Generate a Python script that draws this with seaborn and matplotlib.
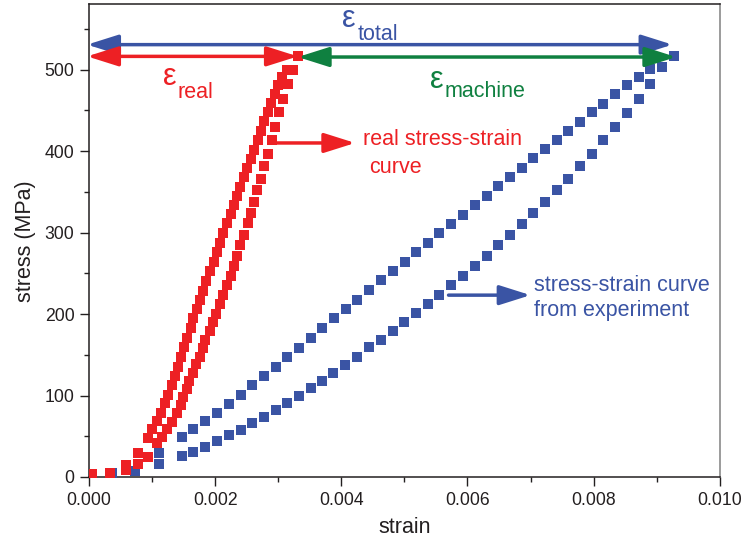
import matplotlib
matplotlib.use("Agg")
import matplotlib.pyplot as plt
import seaborn as sns
import pandas as pd
from matplotlib.ticker import MultipleLocator, FormatStrFormatter

# Real (specimen-only) loop: left branch and right branch
real_left_strain = [0.000043, 0.000333, 0.000582, 0.000781, 0.000940, 0.001003, 0.001082,
                    0.001141, 0.001200, 0.001257, 0.001311, 0.001363, 0.001415, 0.001463,
                    0.001510, 0.001561, 0.001609, 0.001653, 0.001716, 0.001764, 0.001811,
                    0.001862, 0.001922, 0.001976, 0.002024, 0.002081, 0.002128, 0.002182,
                    0.002246, 0.002293, 0.002350, 0.002398, 0.002461, 0.002509, 0.002563,
                    0.002615, 0.002674, 0.002726, 0.002778, 0.002832, 0.002884, 0.002943,
                    0.003000, 0.003059, 0.003143, 0.003317]
real_left_stress = [3.3, 5.3, 14.7, 29.9, 48.3, 58.6, 68.8, 79.0, 90.5, 101.1, 112.7, 124.1,
                    135.5, 147.4, 159.3, 170.8, 183.0, 195.0, 206.0, 217.8, 228.9, 240.8,
                    252.7, 264.5, 275.6, 287.1, 299.8, 311.7, 322.2, 333.8, 345.2, 356.3,
                    367.7, 379.6, 390.7, 401.7, 413.1, 425.1, 436.5, 447.5, 459.1, 469.7,
                    481.2, 491.0, 500.0, 516.6]

real_right_strain = [0.000582, 0.000781, 0.000940, 0.001073, 0.001152, 0.001231, 0.001311,
                     0.001390, 0.001453, 0.001494, 0.001548, 0.001590, 0.001648, 0.001691,
                     0.001754, 0.001802, 0.001843, 0.001918, 0.001970, 0.002017, 0.002076,
                     0.002128, 0.002182, 0.002246, 0.002293, 0.002350, 0.002398, 0.002461,
                     0.002515, 0.002563, 0.002615, 0.002667, 0.002726, 0.002778, 0.002842,
                     0.002895, 0.002948, 0.003006, 0.003079, 0.003158, 0.003238, 0.003317]
real_right_stress = [8.6, 15.6, 24.9, 41.4, 49.5, 58.6, 67.9, 78.3, 88.5, 97.9, 108.1, 117.9,
                     128.1, 138.5, 147.8, 158.1, 168.3, 179.7, 190.8, 200.6, 212.2, 223.6,
                     235.5, 246.9, 259.2, 271.5, 284.6, 297.3, 311.2, 323.5, 337.0, 351.7,
                     365.7, 381.2, 396.8, 413.1, 429.6, 447.5, 464.0, 482.4, 500.0, 516.6]

# Measured loop (specimen + machine compliance): upper and lower branch
exp_upper_strain = [0.000360, 0.000729, 0.001109, 0.001479, 0.001653, 0.001843, 0.002033,
                    0.002219, 0.002404, 0.002588, 0.002773, 0.002959, 0.003143, 0.003328,
                    0.003513, 0.003697, 0.003878, 0.004068, 0.004252, 0.004442, 0.004632,
                    0.004813, 0.005003, 0.005187, 0.005372, 0.005552, 0.005742, 0.005927,
                    0.006113, 0.006303, 0.006487, 0.006672, 0.006857, 0.007041, 0.007231,
                    0.007412, 0.007596, 0.007781, 0.007971, 0.008151, 0.008336, 0.008526,
                    0.008716, 0.008895, 0.009276]
exp_upper_stress = [5.3, 7.4, 29.9, 48.8, 58.6, 68.4, 78.6, 89.7, 101.1, 112.7, 124.1, 135.5,
                    147.4, 158.8, 170.4, 182.7, 195.0, 206.0, 217.8, 229.4, 241.2, 252.7,
                    264.5, 276.0, 287.1, 298.9, 310.4, 321.5, 333.3, 344.6, 356.6, 367.7,
                    379.6, 391.0, 402.6, 413.6, 425.1, 436.1, 447.5, 458.2, 470.1, 481.2,
                    491.4, 501.2, 517.2]

exp_lower_strain = [0.001109, 0.001479, 0.001653, 0.001843, 0.002033, 0.002219, 0.002404,
                    0.002588, 0.002773, 0.002959, 0.003143, 0.003328, 0.003513, 0.003697,
                    0.003872, 0.004062, 0.004252, 0.004442, 0.004628, 0.004813, 0.005000,
                    0.005185, 0.005369, 0.005552, 0.005740, 0.005924, 0.006113, 0.006303,
                    0.006487, 0.006672, 0.006857, 0.007041, 0.007231, 0.007412, 0.007596,
                    0.007781, 0.007971, 0.008151, 0.008336, 0.008526, 0.008716, 0.008895,
                    0.009081, 0.009276]
exp_lower_stress = [15.6, 25.4, 31.1, 37.2, 43.9, 51.2, 58.1, 66.0, 74.1, 82.3, 90.9, 99.5,
                    109.0, 117.9, 127.4, 137.6, 147.8, 159.3, 168.7, 179.0, 190.0, 200.9,
                    212.2, 223.2, 235.3, 246.7, 259.2, 271.5, 284.6, 296.9, 310.4, 323.5,
                    337.5, 351.7, 366.1, 381.7, 396.8, 413.6, 429.6, 446.8, 464.4, 482.8,
                    502.8, 517.2]

x_ticks = [0.000, 0.002, 0.004, 0.006, 0.008, 0.010]
y_ticks = [0, 100, 200, 300, 400, 500]

RED = "#ED2024"
BLUE = "#3A54A4"
GREEN = "#0F8040"
INK = "#231F20"

sns.set_style("ticks")
plt.rcParams["font.family"] = ["Liberation Sans", "DejaVu Sans"]

exp_df = pd.DataFrame({
    "strain": exp_upper_strain + exp_lower_strain,
    "stress": exp_upper_stress + exp_lower_stress,
})
real_df = pd.DataFrame({
    "strain": real_left_strain + real_right_strain,
    "stress": real_left_stress + real_right_stress,
})

fig = plt.figure(figsize=(7.42, 5.46), dpi=100)
ax = fig.add_axes([0.120, 0.1264, 0.850, 0.8654])

sns.scatterplot(data=exp_df, x="strain", y="stress", marker="s", s=50,
                color=BLUE, linewidth=0, ax=ax, zorder=3)
sns.scatterplot(data=real_df, x="strain", y="stress", marker="s", s=60,
                color=RED, linewidth=0, ax=ax, zorder=4)

ax.set_xlim(0, 0.010)
ax.set_ylim(0, 580)
ax.set_xticks(x_ticks)
ax.set_yticks(y_ticks)
ax.xaxis.set_minor_locator(MultipleLocator(0.001))
ax.yaxis.set_minor_locator(MultipleLocator(50))
ax.xaxis.set_major_formatter(FormatStrFormatter("%.3f"))
ax.tick_params(which="major", direction="out", length=6.5, width=1.0,
               labelsize=12.7, colors=INK, pad=4)
ax.tick_params(which="minor", direction="out", length=3.6, width=1.0, colors=INK)
ax.tick_params(top=False, right=False, which="both")

for side in ("left", "bottom", "top"):
    ax.spines[side].set_color(INK)
    ax.spines[side].set_linewidth(1.1)
ax.spines["right"].set_color("#808080")
ax.spines["right"].set_linewidth(1.1)

ax.set_xlabel("strain", fontsize=15.5, color=INK, labelpad=6)
ax.set_ylabel("stress (MPa)", fontsize=15.5, color=INK, labelpad=6)


def arrow(x0, x1, y, color, style):
    ax.annotate("", xy=(x1, y), xytext=(x0, y), annotation_clip=False,
                arrowprops=dict(arrowstyle=style + ",head_length=1.9,head_width=0.6",
                                mutation_scale=10, color=color, lw=2.5,
                                shrinkA=0, shrinkB=0), zorder=6)


# strain components
arrow(-0.00003, 0.00925, 530.7, BLUE, "<|-|>")
arrow(-0.00003, 0.00331, 516.3, RED, "<|-|>")
arrow(0.00331, 0.00931, 515.5, GREEN, "<|-|>")

# pointers to the two curves
arrow(0.00293, 0.00422, 410.0, RED, "-|>")
arrow(0.00570, 0.00700, 223.2, BLUE, "-|>")

# strain symbols
eps_kw = dict(fontsize=22, va="baseline", ha="left", zorder=7)
sub_kw = dict(fontsize=15.5, va="baseline", ha="left", zorder=7)
ax.text(0.00401, 552.5, "\u03b5", color=BLUE, **eps_kw)
ax.text(0.00426, 536.9, "total", color=BLUE, **sub_kw)
ax.text(0.00117, 481.6, "\u03b5", color=RED, **eps_kw)
ax.text(0.00140, 465.6, "real", color=RED, **sub_kw)
ax.text(0.00541, 477.9, "\u03b5", color=GREEN, **eps_kw)
ax.text(0.00564, 466.4, "machine", color=GREEN, **sub_kw)

# curve captions
cap_kw = dict(fontsize=15.5, va="baseline", ha="left", zorder=7)
ax.text(0.00434, 407.9, "real stress-strain", color=RED, **cap_kw)
ax.text(0.00444, 373.5, "curve", color=RED, **cap_kw)
ax.text(0.00705, 228.5, "stress-strain curve", color=BLUE, **cap_kw)
ax.text(0.00705, 197.4, "from experiment", color=BLUE, **cap_kw)

fig.savefig("out.png", dpi=100, facecolor="white")
